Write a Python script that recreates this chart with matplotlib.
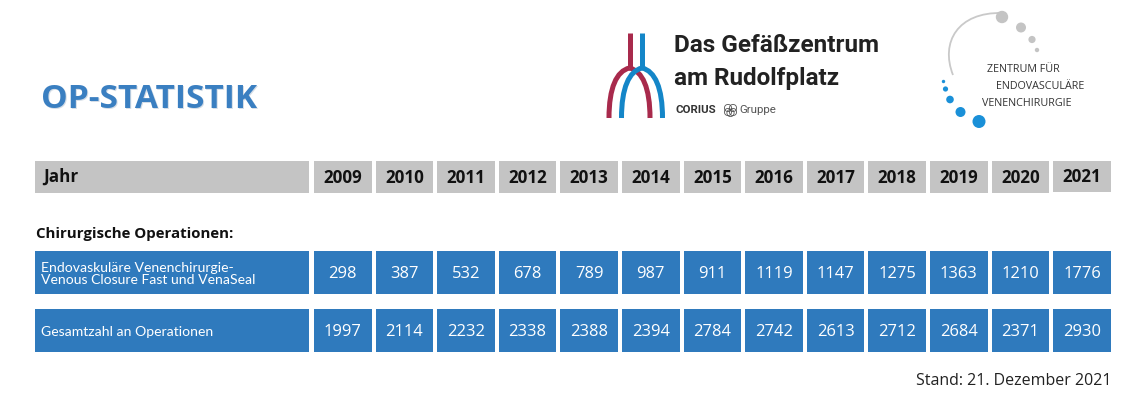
import matplotlib
matplotlib.use("Agg")
import matplotlib.pyplot as plt
from matplotlib.patches import Rectangle, Circle, PathPatch
from matplotlib.path import Path

years = ["2009","2010","2011","2012","2013","2014","2015","2016","2017","2018","2019","2020","2021"]
endo_values = [298,387,532,678,789,987,911,1119,1147,1275,1363,1210,1776]
total_values = [1997,2114,2232,2338,2388,2394,2784,2742,2613,2712,2684,2371,2930]
endo_label = "Endovaskuläre Venenchirurgie-\nVenous Closure Fast und VenaSeal"
total_label = "Gesamtzahl an Operationen"

W, H = 1141, 401
GREY, BLUE = "#c4c4c4", "#2f7abd"
FONT = "Open Sans"

fig = plt.figure(figsize=(W/100, H/100), dpi=100)
ax = fig.add_axes([0, 0, 1, 1])
ax.set_xlim(0, W); ax.set_ylim(H, 0); ax.axis("off")

def px(s):
    return s * 0.72

def txt(x, y, s, size, **kw):
    kw.setdefault("family", FONT)
    kw.setdefault("va", "center")
    kw.setdefault("ha", "left")
    kw.setdefault("color", "#111111")
    return ax.text(x, y, s, fontsize=px(size), **kw)

def cell(x0, x1, y0, y1, color):
    ax.add_patch(Rectangle((x0, y0), x1-x0, y1-y0, fc=color, ec="none"))

LABEL_X0, LABEL_X1 = 35, 308.5
COL0, PITCH, CW = 314, 61.6, 57.5
HEAD, R1, R2 = (161, 193), (251, 294), (309, 352)

# header row
cell(LABEL_X0, LABEL_X1, *HEAD, GREY)
txt(43, 177, "Jahr", 17, weight="bold")
for i, y in enumerate(years):
    x = COL0 + i*PITCH
    h = (161, 192) if i == len(years)-1 else HEAD
    cell(x, x+CW, *h, GREY)
    txt(x+CW/2, 176.5 if i == len(years)-1 else 178, y, 17, weight="bold", ha="center")

txt(36, 234, "Chirurgische Operationen:", 15, weight="bold")

# data rows
for row, label, vals in ((R1, endo_label, endo_values), (R2, total_label, total_values)):
    cell(LABEL_X0, LABEL_X1, *row, BLUE)
    txt(41, sum(row)/2 + 1.5, label, 14, family="Lato", color="white", linespacing=1.05)
    for i, v in enumerate(vals):
        x = COL0 + i*PITCH
        cell(x, x+CW, *row, BLUE)
        txt(x+CW/2, sum(row)/2 + 2, str(v), 16.5, color="white", ha="center")

txt(1111, 381, "Stand: 21. Dezember 2021", 16, ha="right", color="#222222")

# title with its soft shadow
txt(42, 100.5, "OP-STATISTIK", 33.5, weight="bold", color="#d5dde6")
txt(41, 100, "OP-STATISTIK", 33.5, weight="bold", color="#3a7fc1")

# logo 1: vessels
RED, SKY = "#a82a4c", "#1486c8"
def vessel(xc, color):
    w = 5
    ax.plot([xc, xc], [33, 68], color=color, lw=px(w), solid_capstyle="butt")
    for sgn in (-1, 1):
        verts = [(xc + sgn*20.5, 118), (xc + sgn*20.5, 88), (xc + sgn*13, 71), (xc, 68)]
        ax.add_patch(PathPatch(Path(verts, [Path.MOVETO, Path.CURVE4, Path.CURVE4, Path.CURVE4]),
                               fc="none", ec=color, lw=px(w), capstyle="butt"))
vessel(629.5, RED)
vessel(642, SKY)

txt(674, 45.5, "Das Gefäßzentrum", 24.3, family="Roboto", weight="bold", color="#222222")
txt(674, 78, "am Rudolfplatz", 24.3, family="Roboto", weight="bold", color="#222222")
txt(675, 110, "CORIUS", 11.5, family="Roboto", weight="bold", color="#333333")
for cx, cy in ((728, 108), (733, 108), (730.5, 113), (728, 112), (733, 112)):
    ax.add_patch(Circle((cx, cy), 3.6, fc="none", ec="#555555", lw=0.6))
txt(739, 110, "Gruppe", 11.5, family="Roboto", color="#555555")

# logo 2: zentrum
ax.add_patch(PathPatch(Path([(953, 75), (940, 42), (958, 12), (1002, 13)],
                            [Path.MOVETO, Path.CURVE4, Path.CURVE4, Path.CURVE4]),
                       fc="none", ec="#c9c9c9", lw=px(1.8)))
for cx, cy, r in ((1002, 17, 6.2), (1021, 27.5, 5), (1032, 39.5, 3.6), (1037, 50, 2.2)):
    ax.add_patch(Circle((cx, cy), r, fc="#c4c4c4", ec="none"))
for cx, cy, r in ((943.5, 81.5, 1.7), (945.5, 89, 2.6), (950, 99.5, 3.8), (960.5, 112, 5), (979, 121.5, 6.5)):
    ax.add_patch(Circle((cx, cy), r, fc="#1a90d8", ec="none"))
txt(987, 69.5, "ZENTRUM FÜR", 10.8, color="#333333")
txt(996, 86.5, "ENDOVASCULÄRE", 10.8, color="#333333")
txt(982, 103, "VENENCHIRURGIE", 10.8, color="#333333")

fig.savefig("out.png", dpi=100)
